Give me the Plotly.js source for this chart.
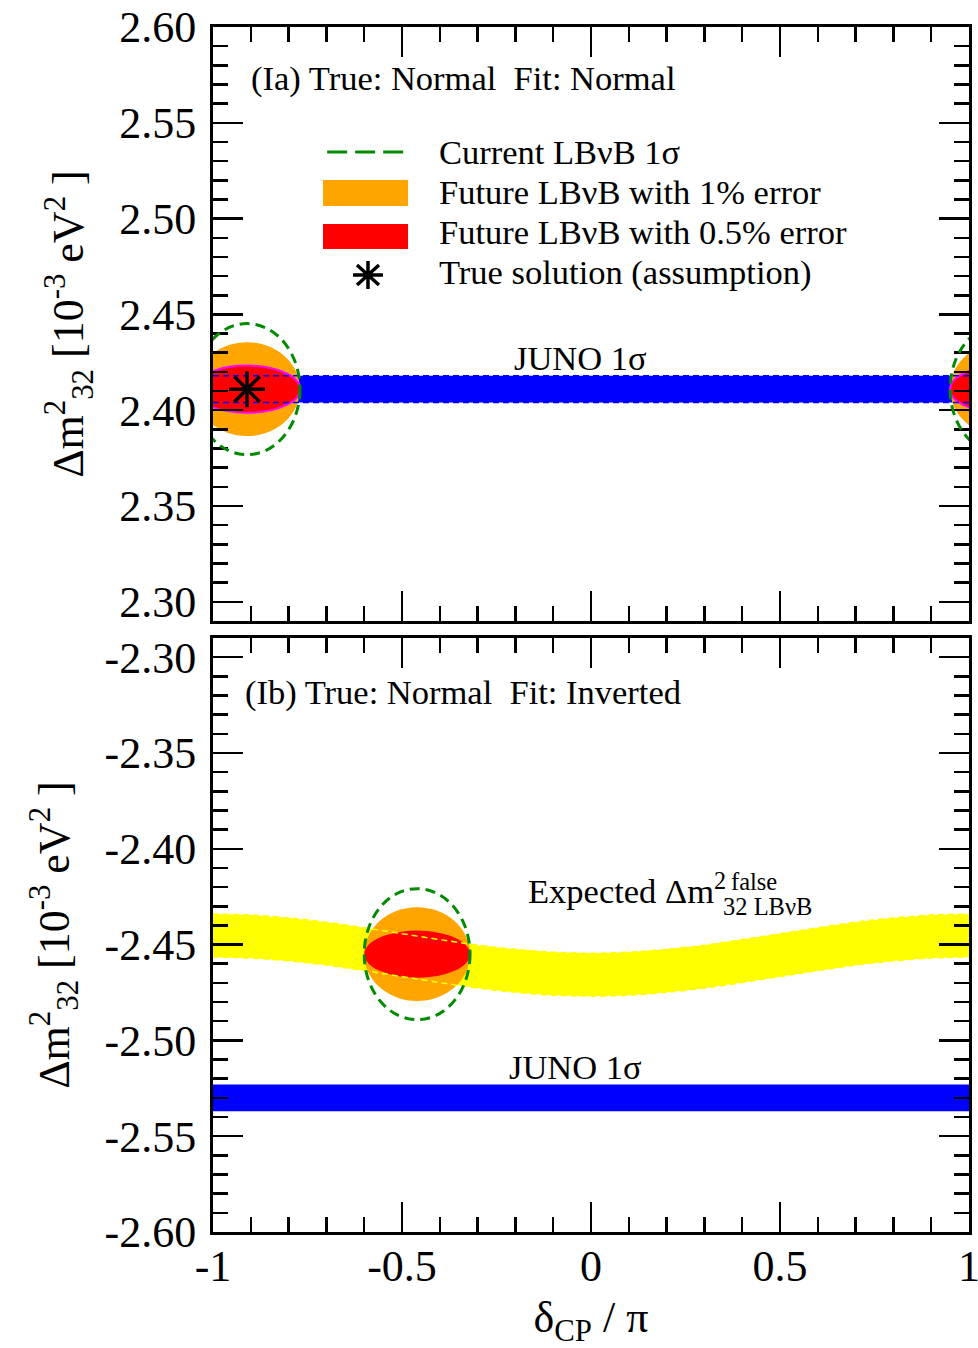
<!DOCTYPE html>
<html><head><meta charset="utf-8">
<script src="https://cdn.plot.ly/plotly-3.0.1.min.js"></script>
<style>html,body{margin:0;padding:0;background:#fff;}#chart{width:978px;height:1348px;}</style>
</head><body><div id="chart"></div>
<script>
// ---------------- data ----------------
const xTickVals = [-1, -0.5, 0, 0.5, 1];
const xTickText = ['-1', '-0.5', '0', '0.5', '1'];
const yTopTickVals = [2.30, 2.35, 2.40, 2.45, 2.50, 2.55, 2.60];
const yTopTickText = ['2.30', '2.35', '2.40', '2.45', '2.50', '2.55', '2.60'];
const yBotTickVals = [-2.60, -2.55, -2.50, -2.45, -2.40, -2.35, -2.30];
const yBotTickText = ['-2.60', '-2.55', '-2.50', '-2.45', '-2.40', '-2.35', '-2.30'];

// JUNO 1σ bands [lower, upper] (10^-3 eV^2)
const junoTop = [2.404, 2.418];
const junoBot = [-2.537, -2.523];

// True solution (δCP/π, Δm²32)
const trueSolution = [-0.91, 2.411];

// LBνB allowed regions: centre and half extents [δ/π, Δm²]
const fitTopCenter = [-0.91, 2.411];
const fitBotCenter = [-0.46, -2.455];
const currentHalf = [0.14, 0.0342];
const future1Half = [0.14, 0.0245];
const future05Half = [0.14, 0.0123];

// Expected Δm²32 false (inverted fit) band
const deltaGrid = [-1, -0.9, -0.8, -0.7, -0.6, -0.5, -0.4, -0.3, -0.2, -0.1, 0, 0.1, 0.2, 0.3, 0.4, 0.5, 0.6, 0.7, 0.8, 0.9, 1];
const falseUpper = [-2.4341, -2.4346, -2.4361, -2.4383, -2.4412, -2.4443, -2.4474, -2.4503, -2.4525, -2.4540, -2.4545, -2.4540, -2.4525, -2.4503, -2.4474, -2.4443, -2.4412, -2.4383, -2.4361, -2.4346, -2.4341];
const falseLower = [-2.4565, -2.4570, -2.4585, -2.4607, -2.4636, -2.4667, -2.4698, -2.4727, -2.4749, -2.4764, -2.4769, -2.4764, -2.4749, -2.4727, -2.4698, -2.4667, -2.4636, -2.4607, -2.4585, -2.4570, -2.4565];

// ---------------- styles ----------------
const SERIF = 'Liberation Serif, Times New Roman, Times, serif';
const C_BLUE = 'rgb(0,0,255)', C_ORANGE = 'rgb(255,165,0)', C_RED = 'rgb(255,0,0)';
const C_YELLOW = 'rgb(255,255,0)', C_GREEN = 'rgb(0,139,0)', C_MAGENTA = 'rgb(255,0,255)';

function ellipse(c, half, xr, yr, style) {
  return Object.assign({type: 'circle', xref: xr, yref: yr,
    x0: c[0] - half[0], x1: c[0] + half[0], y0: c[1] - half[1], y1: c[1] + half[1]}, style);
}
const orangeStyle = {fillcolor: C_ORANGE, line: {width: 0}, layer: 'below'};
const redStyleTop = {fillcolor: C_RED, line: {width: 2, color: C_MAGENTA}, layer: 'below'};
const redStyleBot = {fillcolor: C_RED, line: {width: 0}, layer: 'below'};
const greenStyle = {fillcolor: 'rgba(0,0,0,0)', line: {width: 3, color: C_GREEN, dash: '10px,6px'}, layer: 'above'};

// periodic copy (δCP is 2π periodic)
const fitTopWrap = [fitTopCenter[0] + 2, fitTopCenter[1]];

const bandPath = 'M ' + deltaGrid.map((d, i) => d + ',' + falseUpper[i]).join(' L ') +
  ' L ' + deltaGrid.slice().reverse().map((d, i) => d + ',' + falseLower[falseLower.length - 1 - i]).join(' L ') + ' Z';

const shapes = [
  // top panel
  {type: 'rect', xref: 'x', yref: 'y', x0: xTickVals[0], x1: xTickVals[4], y0: junoTop[0], y1: junoTop[1], fillcolor: C_BLUE, line: {width: 0}, layer: 'below'},
  ellipse(fitTopCenter, future1Half, 'x', 'y', orangeStyle),
  ellipse(fitTopWrap, future1Half, 'x', 'y', orangeStyle),
  ellipse(fitTopCenter, future05Half, 'x', 'y', redStyleTop),
  ellipse(fitTopWrap, future05Half, 'x', 'y', redStyleTop),
  ellipse(fitTopCenter, currentHalf, 'x', 'y', greenStyle),
  ellipse(fitTopWrap, currentHalf, 'x', 'y', greenStyle),
  // bottom panel
  {type: 'path', xref: 'x2', yref: 'y2', path: bandPath, fillcolor: C_YELLOW, line: {width: 0}, layer: 'below'},
  {type: 'rect', xref: 'x2', yref: 'y2', x0: xTickVals[0], x1: xTickVals[4], y0: junoBot[0], y1: junoBot[1], fillcolor: C_BLUE, line: {width: 0}, layer: 'below'},
  ellipse(fitBotCenter, future1Half, 'x2', 'y2', orangeStyle),
  ellipse(fitBotCenter, future05Half, 'x2', 'y2', redStyleBot),
  ellipse(fitBotCenter, currentHalf, 'x2', 'y2', greenStyle),
  // legend keys (top panel)
  {type: 'line', xref: 'x', yref: 'y', x0: -0.698, x1: -0.492, y0: 2.5348, y1: 2.5348, line: {color: C_GREEN, width: 3, dash: '20px,8px'}, layer: 'above'},
  {type: 'rect', xref: 'x', yref: 'y', x0: -0.709, x1: -0.484, y0: 2.5066, y1: 2.5201, fillcolor: C_ORANGE, line: {width: 0}, layer: 'above'},
  {type: 'rect', xref: 'x', yref: 'y', x0: -0.709, x1: -0.484, y0: 2.4841, y1: 2.4972, fillcolor: C_RED, line: {width: 0}, layer: 'above'},
  {type: 'path', xref: 'x', yref: 'y', xsizemode: 'pixel', ysizemode: 'pixel', xanchor: -0.59, yanchor: 2.4706,
   path: 'M-15,0 L15,0 M0,-14 L0,14 M-11,-10 L11,10 M-11,10 L11,-10', line: {color: 'black', width: 3.5}, layer: 'above'}
];

const traces = [
  {x: [xTickVals[0], xTickVals[4], null, xTickVals[0], xTickVals[4]], y: [junoTop[0], junoTop[0], null, junoTop[1], junoTop[1]],
   xaxis: 'x', yaxis: 'y', mode: 'lines', line: {color: C_BLUE, width: 1.5, dash: '6px,4px'}, hoverinfo: 'skip'},
  {x: [trueSolution[0]], y: [trueSolution[1]], xaxis: 'x', yaxis: 'y', mode: 'markers',
   marker: {symbol: 'asterisk-open', size: 30, color: 'black', line: {color: 'black', width: 3.5}}, hoverinfo: 'skip'},
  {x: deltaGrid, y: falseUpper, xaxis: 'x2', yaxis: 'y2', mode: 'lines', line: {color: C_YELLOW, width: 1.5, dash: '6px,4px', shape: 'spline'}, hoverinfo: 'skip'},
  {x: deltaGrid, y: falseLower, xaxis: 'x2', yaxis: 'y2', mode: 'lines', line: {color: C_YELLOW, width: 1.5, dash: '6px,4px', shape: 'spline'}, hoverinfo: 'skip'}
];

const TXT = 34.5;
function ann(text, xr, yr, x, y, size, anchor) {
  return {text: text, xref: xr, yref: yr, x: x, y: y, xanchor: anchor || 'left', yanchor: 'middle', showarrow: false,
    font: {family: SERIF, size: size || TXT, color: 'black'}};
}
const annotations = [
  ann('(Ia) True: Normal\u00a0\u00a0Fit: Normal', 'x', 'y', -0.905, 2.5729),
  ann('Current LBνB 1σ', 'x', 'y', -0.408, 2.5348),
  ann('Future LBνB with 1% error', 'x', 'y', -0.408, 2.5139),
  ann('Future LBνB with 0.5% error', 'x', 'y', -0.408, 2.4930),
  ann('True solution (assumption)', 'x', 'y', -0.408, 2.4721),
  ann('JUNO 1σ', 'x', 'y', -0.029, 2.4272, TXT, 'center'),
  ann('(Ib) True: Normal\u00a0\u00a0Fit: Inverted', 'x2', 'y2', -0.92, -2.3187),
  ann('Expected Δm<sup>2</sup>', 'x2', 'y2', -0.172, -2.4205),
  ann('false', 'x2', 'y2', 0.365, -2.4173, 24.5),
  ann('32 LBνB', 'x2', 'y2', 0.345, -2.4299, 24.5),
  ann('JUNO 1σ', 'x2', 'y2', -0.040, -2.5139, TXT, 'center')
];

const BIG = 44;
const axBase = {
  showline: true, linecolor: 'black', linewidth: 3, mirror: 'ticks',
  ticks: 'inside', ticklen: 30, tickwidth: 2.5, tickcolor: 'black',
  showgrid: false, zeroline: false, fixedrange: true, ticklabeloverflow: 'allow',
  tickfont: {family: SERIF, size: BIG, color: 'black'}
};
const yTitle = 'Δm<sup>2</sup><sub>32</sub> [10<sup>-3</sup> eV<sup>2</sup> ]';

const layout = {
  width: 978, height: 1348,
  margin: {l: 213, r: 9, t: 27, b: 116, pad: 0},
  paper_bgcolor: 'white', plot_bgcolor: 'white', showlegend: false,
  font: {family: SERIF, color: 'black'},
  xaxis: Object.assign({}, axBase, {domain: [0, 1], range: [-1, 1], anchor: 'y', tickmode: 'array', tickvals: xTickVals, ticktext: xTickText, showticklabels: false,
    minor: {ticks: 'inside', ticklen: 15, tickwidth: 2.5, tickcolor: 'black', tickmode: 'linear', tick0: 0, dtick: 0.1, showgrid: false}}),
  yaxis: Object.assign({}, axBase, {domain: [0.50705, 1], range: [2.29, 2.60], anchor: 'x', tickmode: 'array', tickvals: yTopTickVals, ticktext: yTopTickText,
    ticklabelstandoff: 5,
    minor: {ticks: 'inside', ticklen: 15, tickwidth: 2.5, tickcolor: 'black', tickmode: 'linear', tick0: 2.30, dtick: 0.01, showgrid: false},
    title: {text: yTitle, font: {family: SERIF, size: BIG, color: 'black'}, standoff: 22}}),
  xaxis2: Object.assign({}, axBase, {domain: [0, 1], range: [-1, 1], anchor: 'y2', tickmode: 'array', tickvals: xTickVals, ticktext: xTickText,
    ticklabelstandoff: -7,
    minor: {ticks: 'inside', ticklen: 15, tickwidth: 2.5, tickcolor: 'black', tickmode: 'linear', tick0: 0, dtick: 0.1, showgrid: false},
    title: {text: 'δ<sub>CP</sub> / π', font: {family: SERIF, size: BIG, color: 'black'}, standoff: 15}}),
  yaxis2: Object.assign({}, axBase, {domain: [0, 0.49295], range: [-2.60, -2.29], anchor: 'x2', tickmode: 'array', tickvals: yBotTickVals, ticktext: yBotTickText,
    ticklabelstandoff: 5,
    minor: {ticks: 'inside', ticklen: 15, tickwidth: 2.5, tickcolor: 'black', tickmode: 'linear', tick0: -2.30, dtick: 0.01, showgrid: false},
    title: {text: yTitle, font: {family: SERIF, size: BIG, color: 'black'}, standoff: 22}}),
  shapes: shapes,
  annotations: annotations
};

Plotly.newPlot('chart', traces, layout, {staticPlot: true, displayModeBar: false});
</script>
</body></html>
